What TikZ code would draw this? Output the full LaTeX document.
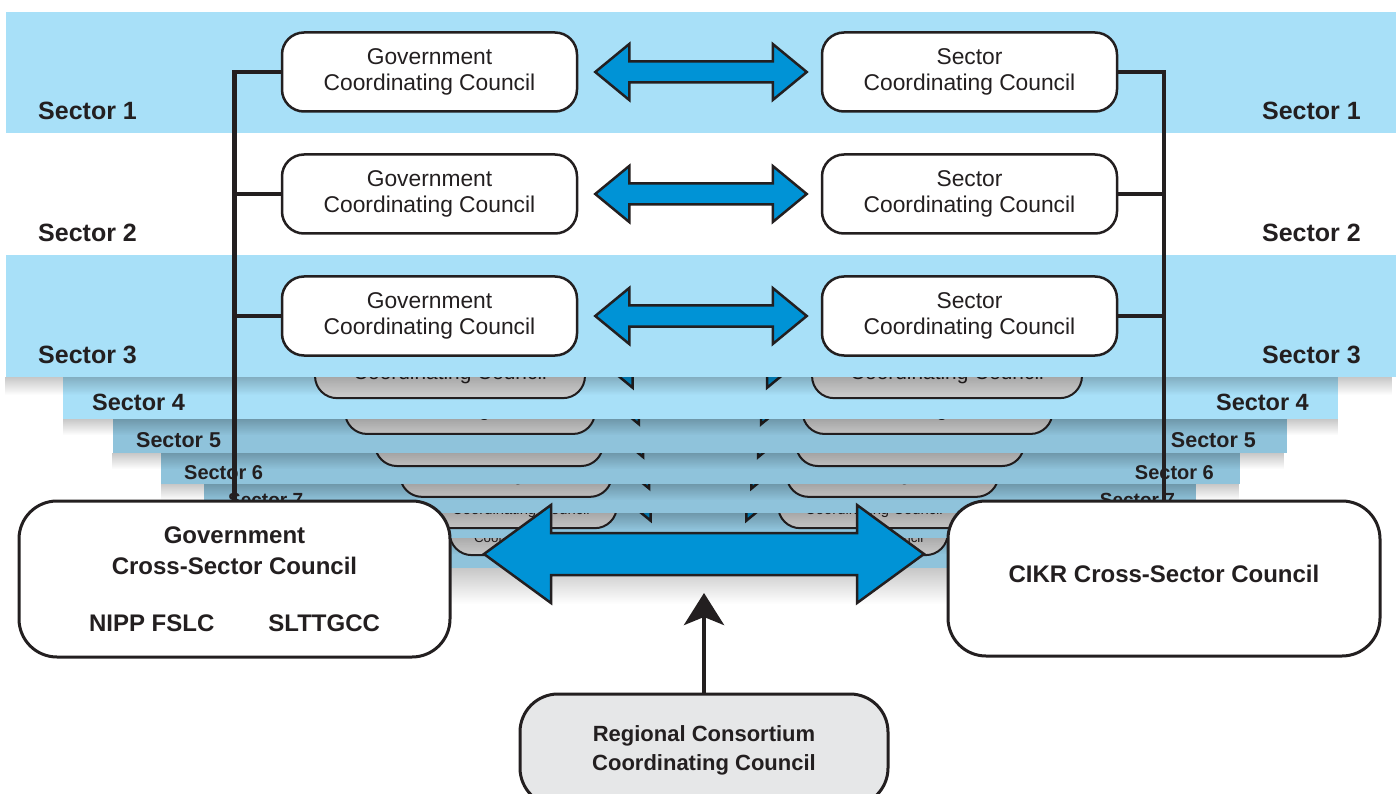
\documentclass[tikz,border=0pt]{standalone}
\usepackage{fontspec}
\setmainfont{Liberation Sans}
\usepackage{tikz}
\usetikzlibrary{calc,fadings,arrows.meta}
\definecolor{bandblue}{RGB}{168,224,248}
\definecolor{deepblue}{RGB}{143,195,219}
\definecolor{arrblue}{RGB}{0,147,214}
\definecolor{ink}{RGB}{35,31,32}
\definecolor{rccgray}{RGB}{230,231,232}
\tikzfading[name=shfade, top color=transparent!0, bottom color=transparent!100]
\tikzstyle{ccbox}=[draw=ink, text=ink, line width=2.5pt, fill=white, rounded corners=22pt, minimum width=295pt, minimum height=79pt, align=center, inner sep=0pt, font=\fontsize{22.8}{26}\selectfont]
\tikzstyle{backbox}=[ccbox, line width=2pt, top color=white, bottom color=black!22]
\tikzstyle{seclabel}=[text=ink, inner sep=0pt, font=\fontsize{25}{28}\bfseries\selectfont]
\tikzstyle{link}=[draw=ink, line width=4.5pt]
\tikzstyle{blockarr}=[draw=ink, fill=arrblue, line width=2.5pt, line join=miter]
\tikzstyle{crossbox}=[draw=ink, text=ink, line width=3pt, fill=white, rounded corners=38pt, align=center, inner sep=0pt, font=\fontsize{24}{31}\bfseries\selectfont]
\tikzstyle{shadowstrip}=[black, fill opacity=0.22, path fading=shfade]
\newcommand{\blockarrow}[5]{%
  \path[blockarr] let \p1=(#1), \p2=(#2) in
    (\p1) -- (\x1+#3,\y1+#4) -- (\x1+#3,\y1+#5) -- (\x2-#3,\y2+#5) -- (\x2-#3,\y2+#4) -- (\p2)
    -- (\x2-#3,\y2-#4) -- (\x2-#3,\y2-#5) -- (\x1+#3,\y1-#5) -- (\x1+#3,\y1-#4) -- cycle;}
\begin{document}
\begin{tikzpicture}[x=1pt,y=-1pt]
\useasboundingbox (0,0) rectangle (1400,794);

\foreach \k/\bl/\br/\bt/\bb/\lc/\rc/\cy/\s/\col/\sh in {
  9/285/1115/470/568/536/861.5/532/0.585/deepblue/36,
  8/245/1155/440/538/521/874/502.5/0.65/deepblue/16,
  7/204/1196/410/513/506/892.5/468.5/0.718/deepblue/16,
  6/161/1240/380/484/489/910/435.5/0.773/deepblue/16,
  5/113/1287/350/453/470/927.5/400.5/0.847/deepblue/16,
  4/63/1338/320/419/450/947/362/0.915/bandblue/16}{
  \fill[shadowstrip] (\bl,\bb) rectangle (\br,\bb+\sh);
  \fill[\col] (\bl,\bt) rectangle (\br,\bb);
  \node[backbox, scale=\s] (gb\k) at (\lc,\cy) {\vphantom{G}\\Coordinating Council};
  \node[backbox, scale=\s] (sb\k) at (\rc,\cy) {\vphantom{S}\\Coordinating Council};
  \blockarrow{$(gb\k.east)+(17*\s,0)$}{$(sb\k.west)-(14*\s,0)$}{34pt*\s}{28pt*\s}{10.5pt*\s}
}

\foreach \k/\ll/\lr/\ly/\ls in {4/92/1309/402/0.94, 5/136/1256/440/0.86, 6/184/1214/473/0.8, 7/228/1175/500/0.76}{
  \node[seclabel, scale=\ls, anchor=west] (lb\k) at (\ll,\ly) {Sector \k};
  \node[seclabel, scale=\ls, anchor=east] (rb\k) at (\lr,\ly) {Sector \k};
}

\fill[shadowstrip] (6,377) rectangle (1396,395);
\foreach \k/\bt/\bb/\col in {3/255/377/bandblue, 2/133/255/white, 1/12/133/bandblue}{
  \fill[\col] (6,\bt) rectangle (1396,\bb);
  \node[ccbox] (g\k) at (429.5,\bb-61) {Government\\Coordinating Council};
  \node[ccbox] (s\k) at (969.5,\bb-61) {Sector\\Coordinating Council};
  \blockarrow{$(g\k.east)+(17,0)$}{$(s\k.west)-(14,0)$}{34pt}{28pt}{10.5pt}
  \node[seclabel, anchor=west] (l\k) at (38,\bb-22) {Sector \k};
  \node[seclabel, anchor=east] (r\k) at (1361,\bb-22) {Sector \k};
}

\node[crossbox, minimum width=431pt, minimum height=156pt] (gcs) at (234.5,579) {Government\\Cross-Sector Council\\[26pt]NIPP FSLC\hspace{54pt}SLTTGCC};
\node[crossbox, minimum width=432pt, minimum height=155pt, text depth=10pt] (cikr) at (1164,578.5) {CIKR Cross-Sector Council};
\node[crossbox, fill=rccgray, minimum width=368pt, minimum height=112pt, font=\fontsize{22}{29}\bfseries\selectfont] (rcc) at (704,750) {Regional Consortium\\Coordinating Council};

\foreach \k in {1,2,3}{
  \draw[link] (g\k.west) -| (gcs.north);
  \draw[link] (s\k.east) -| (cikr.north);
}

\coordinate (bal) at (484,554);
\coordinate (bar) at (924,554);
\blockarrow{bal}{bar}{67pt}{49pt}{21pt}

\coordinate (uptip) at (704,593);
\draw[link, -{Stealth[length=32pt,width=40pt,inset=8pt]}] (rcc.north) -- (uptip);
\end{tikzpicture}
\end{document}
